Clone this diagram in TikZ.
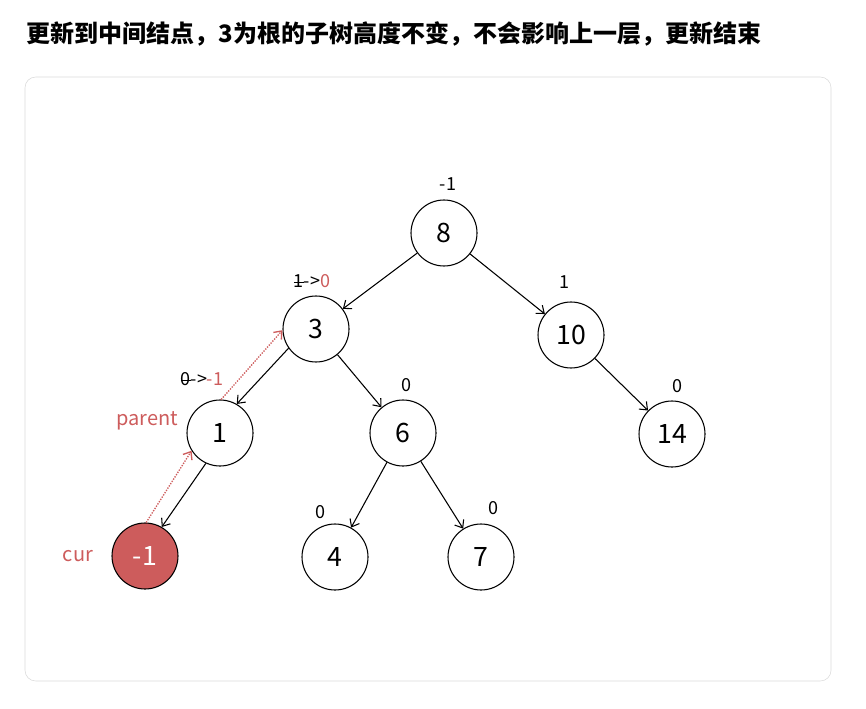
\documentclass[tikz,border=0pt]{standalone}
\usepackage{fontspec}
\setmainfont{Noto Sans CJK SC}
\usetikzlibrary{arrows.meta}
\definecolor{hlred}{RGB}{205,92,92}
\newcommand{\strk}[1]{\ooalign{#1\cr\hidewidth\rule[0.45ex]{0.55em}{0.5pt}\hidewidth\cr}}
\begin{document}
\begin{tikzpicture}[x=0.75pt,y=-0.75pt,
  tnode/.style={circle,draw,thick,minimum size=49.5pt,inner sep=0pt,font=\fontsize{20}{20}\selectfont},
  bal/.style={font=\fontsize{13.5}{13.5}\selectfont},
  edge/.style={-{Straight Barb[length=5pt,width=8pt]},line width=0.8pt},
  link/.style={-{Straight Barb[length=5pt,width=8pt]},hlred,densely dotted,line width=1pt}]
\useasboundingbox (0,0) rectangle (866,709);
\node[anchor=west,font=\bfseries\fontsize{18}{18}\selectfont] (title) at (22,34) {更新到中间结点，3为根的子树高度不变，不会影响上一层，更新结束};
\draw[gray!30,rounded corners=8pt] (25,77) rectangle (831,681);
% tree nodes
\node[tnode] (n8) at (444,233) {8};
\node[tnode] (n3) at (316,329) {3};
\node[tnode] (n10) at (571,335) {10};
\node[tnode] (n1) at (220,433) {1};
\node[tnode] (n6) at (403,433) {6};
\node[tnode] (n14) at (672,434) {14};
\node[tnode,fill=hlred,text=white] (nm1) at (145,556) {-1};
\node[tnode] (n4) at (335,557) {4};
\node[tnode] (n7) at (481,557) {7};
% edges
\draw[edge] (n8) -- (n3);
\draw[edge] (n8) -- (n10);
\draw[edge] (n3.215) -- (n1.60);
\draw[edge] (n3) -- (n6);
\draw[edge] (n10) -- (n14);
\draw[edge] (n1.245) -- (nm1.60);
\draw[edge] (n6) -- (n4);
\draw[edge] (n6) -- (n7);
\draw[link] (nm1.88) -- (n1.212);
\draw[link] (n1.88) -- (n3.182);
% balance factors
\node[bal] (b8) at (448,184) {-1};
\node[bal] (b3) at (312,281) {\strk{1}->\textcolor{hlred}{0}};
\node[bal] (b10) at (564,282) {1};
\node[bal] (b1) at (202,379) {\strk{0}->\textcolor{hlred}{-1}};
\node[bal] (b6) at (406,385) {0};
\node[bal] (b14) at (677,386) {0};
\node[bal] (b4) at (320,512) {0};
\node[bal] (b7) at (493,508) {0};
\node[bal,text=hlred,font=\fontsize{15}{15}\selectfont] (lp) at (147,421) {parent};
\node[bal,text=hlred,font=\fontsize{15}{15}\selectfont] (lc) at (78,556) {cur};
\end{tikzpicture}
\end{document}
